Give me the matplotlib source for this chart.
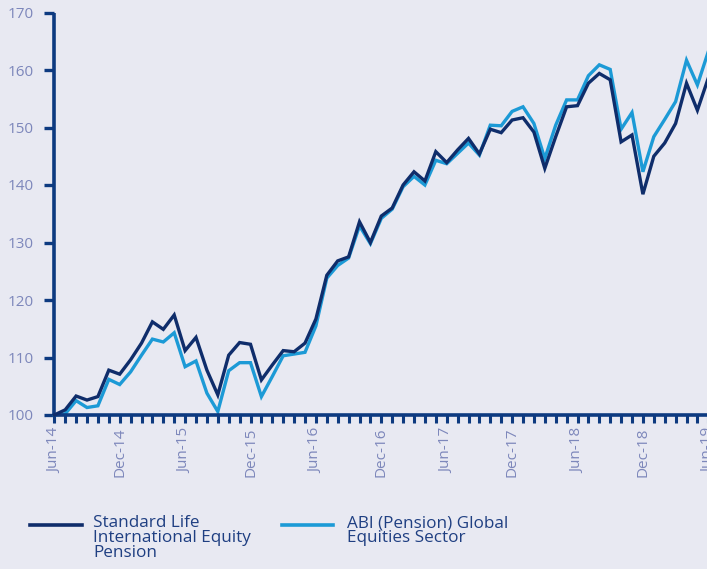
import matplotlib
matplotlib.use("Agg")
import matplotlib.pyplot as plt
from matplotlib.lines import Line2D
import numpy as np

months = ["Jun-14", "Jul-14", "Aug-14", "Sep-14", "Oct-14", "Nov-14", "Dec-14", "Jan-15", "Feb-15", "Mar-15",
          "Apr-15", "May-15", "Jun-15", "Jul-15", "Aug-15", "Sep-15", "Oct-15", "Nov-15", "Dec-15", "Jan-16",
          "Feb-16", "Mar-16", "Apr-16", "May-16", "Jun-16", "Jul-16", "Aug-16", "Sep-16", "Oct-16", "Nov-16",
          "Dec-16", "Jan-17", "Feb-17", "Mar-17", "Apr-17", "May-17", "Jun-17", "Jul-17", "Aug-17", "Sep-17",
          "Oct-17", "Nov-17", "Dec-17", "Jan-18", "Feb-18", "Mar-18", "Apr-18", "May-18", "Jun-18", "Jul-18",
          "Aug-18", "Sep-18", "Oct-18", "Nov-18", "Dec-18", "Jan-19", "Feb-19", "Mar-19", "Apr-19", "May-19",
          "Jun-19"]

standard_life = [100.0, 100.9, 103.3, 102.6, 103.2, 107.8, 107.1, 109.6, 112.5, 116.2,
                 114.9, 117.4, 111.2, 113.5, 107.8, 103.5, 110.4, 112.6, 112.3, 106.1,
                 108.7, 111.2, 111.0, 112.5, 116.7, 124.3, 126.8, 127.5, 133.6, 130.0,
                 134.6, 136.0, 140.0, 142.3, 140.7, 145.8, 143.9, 146.1, 148.1, 145.4,
                 149.7, 149.1, 151.3, 151.7, 149.2, 142.9, 148.4, 153.6, 153.8, 157.7,
                 159.4, 158.3, 147.5, 148.7, 138.4, 145.0, 147.3, 150.7, 157.7, 153.0,
                 158.6]

abi_sector = [100.0, 100.2, 102.5, 101.3, 101.6, 106.2, 105.3, 107.5, 110.4, 113.2,
              112.7, 114.3, 108.4, 109.4, 103.8, 100.6, 107.7, 109.1, 109.1, 103.2,
              106.7, 110.3, 110.6, 110.9, 115.5, 123.8, 126.0, 127.3, 132.9, 129.8,
              134.2, 135.8, 139.7, 141.5, 140.0, 144.3, 143.7, 145.5, 147.3, 145.2,
              150.4, 150.3, 152.8, 153.6, 150.7, 144.6, 150.4, 154.8, 154.8, 159.0,
              160.9, 160.1, 149.7, 152.6, 142.3, 148.4, 151.4, 154.5, 161.7, 157.4,
              163.2]

y_ticks = [100, 110, 120, 130, 140, 150, 160, 170]
series_names = ["Standard Life\nInternational Equity\nPension", "ABI (Pension) Global\nEquities Sector"]

BG = "#e8e9f2"
DARK = "#0f2d6b"
LIGHT = "#1c9ad6"
SPINE = "#0d3a80"
TICKLBL = "#7d87bb"
LEGTXT = "#1f3f82"

plt.rcParams["font.family"] = ["Open Sans", "DejaVu Sans"]

W, H = 707, 569
fig = plt.figure(figsize=(W / 100, H / 100), dpi=100, facecolor=BG)

x0, x1 = 54.3, 54.3 + 60 * 10.9
y_top, y_bot = 12.5, 415.0
ax = fig.add_axes([x0 / W, 1 - y_bot / H, (x1 - x0) / W, (y_bot - y_top) / H])
ax.set_facecolor(BG)

x = np.arange(len(months))
ax.plot(x, standard_life, color=DARK, lw=2.4, solid_joinstyle="miter", zorder=3, clip_on=False)
ax.plot(x, abi_sector, color=LIGHT, lw=2.4, solid_joinstyle="miter", zorder=2, clip_on=False)

ax.set_xlim(0, len(months) - 1)
ax.set_ylim(100, 170)

for s in ["top", "right"]:
    ax.spines[s].set_visible(False)
for s in ["left", "bottom"]:
    ax.spines[s].set_color(SPINE)
    ax.spines[s].set_linewidth(2.6)
    ax.spines[s].set_capstyle("butt")

ax.set_yticks(y_ticks)
ax.set_yticklabels([str(v) for v in y_ticks])
ax.tick_params(axis="y", direction="out", length=7, width=2.4, color=SPINE,
               labelcolor=TICKLBL, labelsize=11, pad=8)

ax.set_xticks(x)
ax.set_xticklabels([m if i % 6 == 0 else "" for i, m in enumerate(months)], rotation=90)
ax.tick_params(axis="x", direction="out", length=6, width=2.2, color=SPINE,
               labelcolor=TICKLBL, labelsize=11, pad=3)

# legend
ly = 1 - 525 / H
fig.add_artist(Line2D([30 / W, 82 / W], [ly, ly], color=DARK, lw=2.6))
fig.add_artist(Line2D([282 / W, 333 / W], [ly, ly], color=LIGHT, lw=2.6))
fig.text(93 / W, 1 - 515 / H, series_names[0], color=LEGTXT, fontsize=12.3,
         va="top", ha="left", linespacing=0.93)
fig.text(347 / W, 1 - 515 / H, series_names[1], color=LEGTXT, fontsize=12.3,
         va="top", ha="left", linespacing=0.93)

fig.savefig("out.png", dpi=100, facecolor=BG)
